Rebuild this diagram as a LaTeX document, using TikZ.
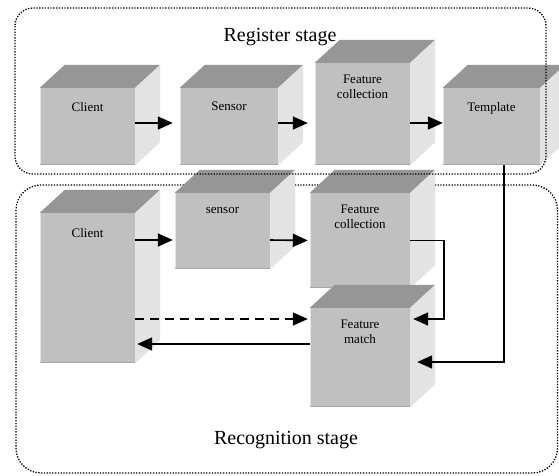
\documentclass[tikz,border=0pt]{standalone}
\usepackage{fontspec}
\setmainfont{Liberation Serif}
\usepackage{tikz}
\usetikzlibrary{arrows.meta,positioning}

\definecolor{facefront}{RGB}{192,192,192}
\definecolor{facetop}{RGB}{150,150,150}
\definecolor{faceside}{RGB}{227,227,227}

% top and right faces of a cube whose front face is node #1
\newcommand{\cubeparts}[1]{%
  \fill[facetop] (#1.north west) -- ++(25,-23) -- ([shift={(25,-23)}]#1.north east) -- (#1.north east) -- cycle;
  \fill[faceside] (#1.north east) -- ([shift={(25,-23)}]#1.north east) -- ([shift={(25,-23)}]#1.south east) -- (#1.south east) -- cycle;
  \draw[black!10, line width=1.2pt] ([xshift=0.6pt]#1.north west) -- ([xshift=0.6pt]#1.south west);
  \draw[black!35, line width=1.2pt] ([yshift=0.6pt]#1.south west) -- ([yshift=0.6pt]#1.south east);
}

\begin{document}
\begin{tikzpicture}[x=1pt,y=-1pt,
   front/.style={fill=facefront, inner sep=0pt, font=\fontsize{13}{15}\selectfont},
   stage/.style={font=\fontsize{20}{24}\selectfont},
   region/.style={dash pattern=on 1.3pt off 1.5pt, line width=1.3pt},
   link/.style={line width=1.6pt, -{Triangle[length=15pt,width=13pt]}}]
   \useasboundingbox (0,0) rectangle (559,475);

   % recognition stage frame (behind the cubes)
   \draw[region, rounded corners=25pt] (16,185) rectangle (557.5,473);

   % register stage
   \node[front, minimum width=95pt, minimum height=77pt] (rc) at (87.5,126.5) {};
   \node[front, minimum width=98pt, minimum height=77pt] (rs) at (229,126.5) {};
   \node[front, minimum width=95pt, minimum height=102pt] (rf) at (362.5,114) {};
   \node[front, minimum width=97pt, minimum height=77pt] (rt) at (491.5,126.5) {};
   % recognition stage
   \node[front, minimum width=95pt, minimum height=150pt] (kc) at (87.5,288) {};
   \node[front, minimum width=95pt, minimum height=76pt] (ks) at (222.5,231) {};
   \node[front, minimum width=100pt, minimum height=95pt] (kf) at (360,240.5) {};

   \cubeparts{rc} \cubeparts{rs} \cubeparts{rf} \cubeparts{rt}
   \cubeparts{kc} \cubeparts{ks} \cubeparts{kf}

   \node[front, minimum width=100pt, minimum height=99pt] (km) at (360,357.5) {};
   \cubeparts{km}

   % box texts
   \path[every node/.style={anchor=north, align=center, font=\fontsize{13}{15}\selectfont}]
    ([yshift=-11pt]rc.north) node (rct) {Client}
    ([yshift=-11pt]rs.north) node (rst) {Sensor}
    ([yshift=-9pt]rf.north) node (rft) {Feature\\collection}
    ([yshift=-11pt]rt.north) node (rtt) {Template}
    ([yshift=-12pt]kc.north) node (kct) {Client}
    ([yshift=-11pt]ks.north) node (kst) {sensor}
    ([yshift=-9pt]kf.north) node (kft) {Feature\\collection}
    ([yshift=-9pt]km.north) node (kmt) {Feature\\match};

   % register stage frame (over the cubes)
   \draw[region, rounded corners=18pt] (15,8) rectangle (546,174);

   \node[stage] (reg) at (280,37) {Register stage};
   \node[stage] (rec) at (286,440) {Recognition stage};

   \draw[link, shorten >=7pt] ([yshift=3.5pt]rc.east) -- ([yshift=3.5pt]rs.west);
   \draw[link, shorten >=7pt] ([yshift=3.5pt]rs.east) -- ([yshift=-9pt]rf.west);
   \draw[link] ([yshift=-9pt]rf.east) -- ([yshift=3.5pt]rt.west);

   \draw[link, shorten >=2pt] ([yshift=48pt]kc.east) -- ([yshift=-9pt]ks.west);
   \draw[link, shorten >=2pt] ([yshift=-9pt]ks.east) -- (kf.west);
   \draw[link] (kf.east) -- ++(34,0) |- ([xshift=3pt,yshift=38.5pt]km.east);
   \draw[link] ([xshift=12.5pt]rt.south) |- ([xshift=7pt,yshift=-4.5pt]km.east);
   \draw[link, dash pattern=on 9pt off 6pt, shorten >=2pt] ([yshift=-31pt]kc.east) -- ([yshift=38.5pt]km.west);
   \draw[link] ([yshift=13.5pt]km.west) -- ([xshift=2pt,yshift=-56pt]kc.east);
\end{tikzpicture}
\end{document}
